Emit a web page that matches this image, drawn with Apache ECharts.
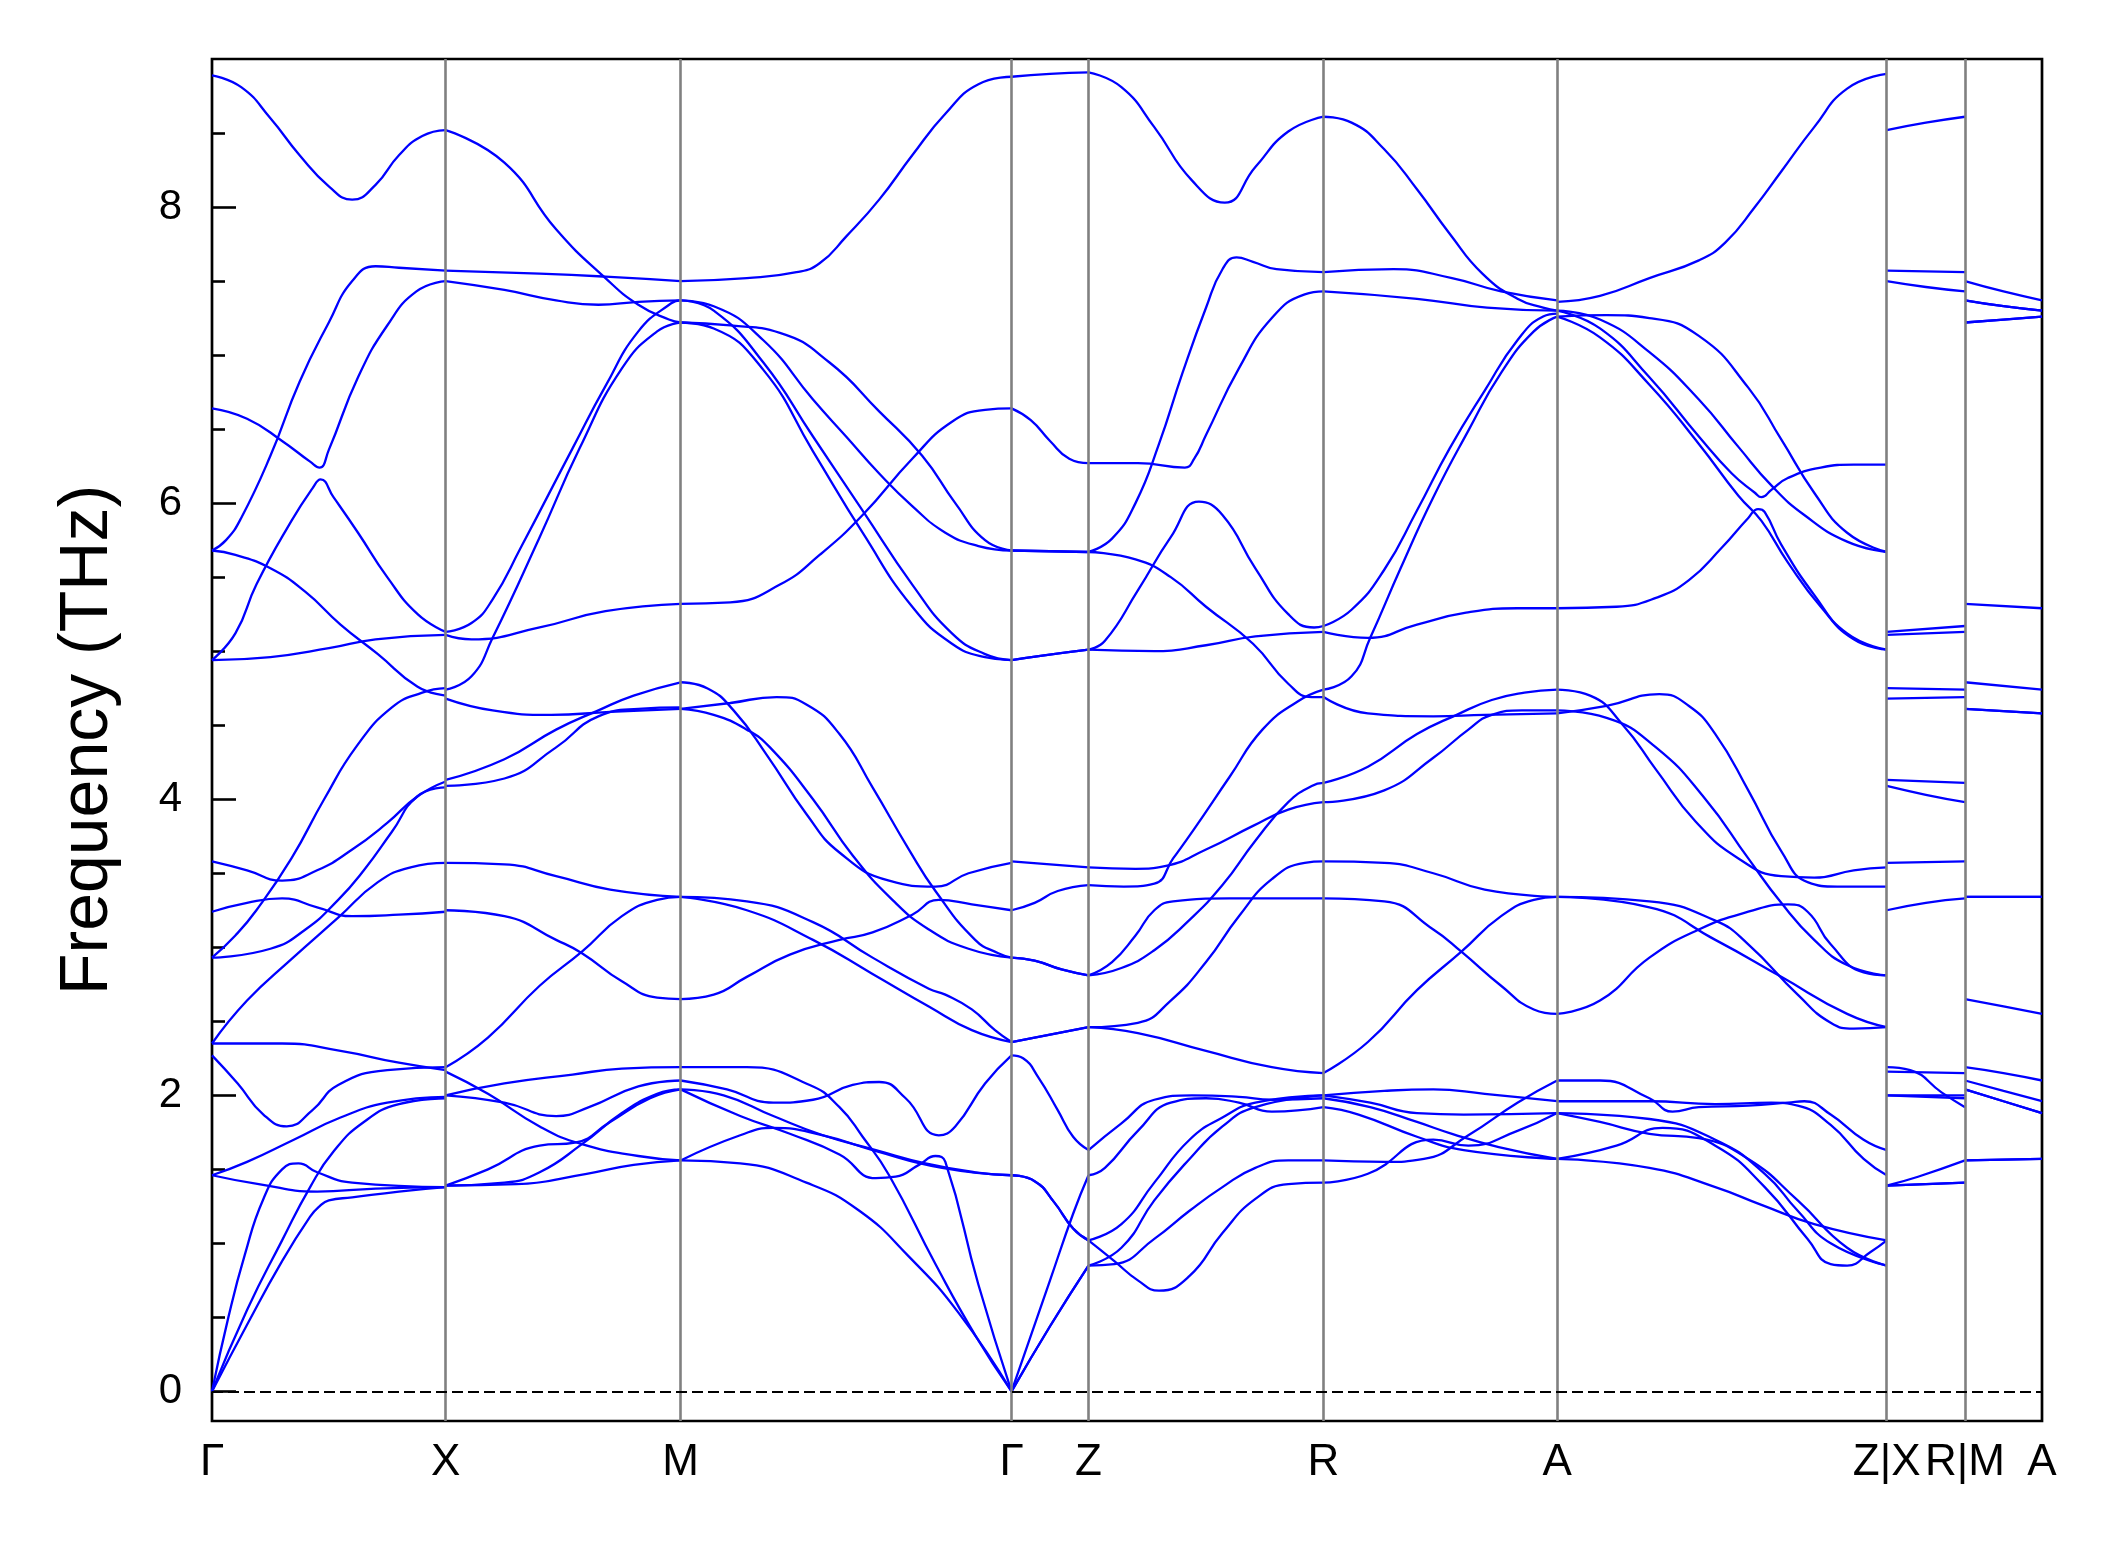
<!DOCTYPE html>
<html><head><meta charset="utf-8">
<script src="https://cdn.jsdelivr.net/npm/echarts@6/dist/echarts.min.js"></script>
<style>html,body{margin:0;padding:0;background:#fff}#c{width:2118px;height:1549px}</style>
</head><body><div id="c"></div>
<script>
// high-symmetry points (path distance) and their labels
const kLabels = ['Γ','X','M','Γ','Z','R','A','Z|X','R|M','A'];
const kPos = [0,173,347,592,649,823,996,1240,1298,1355];
const yMajorTicks = [0,2,4,6,8];
const yMinorTicks = [0.5,1,1.5,2.5,3,3.5,4.5,5,5.5,6.5,7,7.5,8.5];

// each band: [fraction along segment, frequency THz]
const seg_G_X = [
 [[0,8.89],[.125,8.81],[.25,8.6],[.375,8.35],[.5,8.14],[.6,8.05],[.7,8.15],[.8,8.35],[.9,8.48],[1,8.52]],
 [[0,5.68],[.06,5.75],[.125,5.9],[.25,6.32],[.375,6.82],[.5,7.22],[.6,7.5],[.7,7.6],[.8,7.59],[1,7.57]],
 [[0,6.64],[.15,6.57],[.3,6.42],[.42,6.28],[.46,6.24],[.5,6.36],[.625,6.85],[.75,7.2],[.875,7.43],[1,7.5]],
 [[0,4.94],[.1,5.12],[.19,5.45],[.34,5.88],[.43,6.1],[.465,6.16],[.52,6.04],[.625,5.8],[.75,5.5],[.88,5.25],[1,5.13]],
 [[0,5.68],[.1,5.65],[.25,5.56],[.4,5.4],[.55,5.18],[.71,4.98],[.88,4.76],[1,4.7]],
 [[0,4.94],[.25,4.96],[.5,5.02],[.7,5.08],[1,5.11]],
 [[0,3.58],[.15,3.52],[.3,3.45],[.45,3.52],[.6,3.66],[.75,3.84],[.88,4.02],[1,4.12]],
 [[0,3.24],[.15,3.3],[.3,3.33],[.45,3.27],[.6,3.21],[.8,3.22],[1,3.24]],
 [[0,2.93],[.1,3.08],[.19,3.25],[.34,3.6],[.48,4.0],[.62,4.36],[.77,4.62],[.9,4.72],[1,4.75]],
 [[0,2.93],[.25,2.99],[.4,3.12],[.54,3.32],[.65,3.52],[.77,3.78],[.88,4.02],[1,4.08]],
 [[0,2.35],[.15,2.64],[.34,2.92],[.54,3.2],[.71,3.44],[.85,3.54],[1,3.57]],
 [[0,2.35],[.3,2.35],[.55,2.3],[.8,2.22],[1,2.17]],
 [[0,2.27],[.11,2.08],[.22,1.87],[.32,1.79],[.43,1.9],[.54,2.07],[.75,2.17],[1,2.19]],
 [[0,1.46],[.15,1.55],[.35,1.7],[.55,1.85],[.75,1.95],[1,1.99]],
 [[0,1.46],[.2,1.4],[.45,1.35],[.7,1.37],[1,1.38]],
 [[0,0],[.07,0.5],[.14,0.92],[.22,1.3],[.3,1.5],[.37,1.54],[.45,1.48],[.6,1.41],[1,1.38]],
 [[0,0],[.15,0.55],[.3,1.02],[.42,1.38],[.52,1.62],[.65,1.82],[.8,1.94],[1,1.98]],
 [[0,0],[.15,0.45],[.3,0.88],[.42,1.18],[.46,1.25],[.5,1.29],[.6,1.31],[.8,1.35],[1,1.38]]
];
const seg_X_M = [
 [[0,8.52],[.25,8.3],[.47,7.85],[.68,7.52],[.82,7.34],[.95,7.24],[1,7.22]],
 [[0,7.57],[.4,7.55],[.68,7.53],[1,7.5]],
 [[0,7.5],[.25,7.44],[.47,7.37],[.65,7.34],[.82,7.36],[1,7.37]],
 [[0,5.13],[.11,5.19],[.2,5.35],[.32,5.7],[.54,6.37],[.68,6.79],[.82,7.16],[.96,7.35],[1,7.37]],
 [[0,4.74],[.11,4.83],[.2,5.09],[.4,5.77],[.57,6.37],[.75,6.91],[.9,7.16],[1,7.22]],
 [[0,5.11],[.11,5.08],[.4,5.16],[.68,5.27],[1,5.32]],
 [[0,4.68],[.2,4.6],[.45,4.57],[.7,4.59],[1,4.61]],
 [[0,4.13],[.25,4.27],[.47,4.47],[.65,4.6],[.8,4.7],[1,4.79]],
 [[0,4.09],[.25,4.14],[.47,4.35],[.65,4.56],[.82,4.61],[1,4.62]],
 [[0,3.57],[.25,3.56],[.47,3.48],[.7,3.39],[1,3.34]],
 [[0,3.25],[.25,3.21],[.47,3.05],[.58,2.96],[.75,2.77],[.9,2.66],[1,2.65]],
 [[0,2.19],[.18,2.39],[.4,2.74],[.58,2.97],[.75,3.21],[.9,3.32],[1,3.34]],
 [[0,2.16],[.18,2.01],[.4,1.79],[.58,1.67],[.82,1.59],[1,1.56]],
 [[0,2.0],[.25,2.08],[.54,2.14],[.75,2.18],[1,2.19]],
 [[0,2.0],[.25,1.95],[.47,1.86],[.61,1.92],[.82,2.06],[1,2.1]],
 [[0,1.39],[.18,1.5],[.4,1.66],[.55,1.68],[.7,1.82],[.87,1.98],[1,2.04]],
 [[0,1.39],[.25,1.41],[.4,1.48],[.58,1.67],[.75,1.88],[.9,2.01],[1,2.04]],
 [[0,1.39],[.3,1.4],[.6,1.47],[.8,1.53],[1,1.56]]
];
const seg_M_G = [
 [[0,7.5],[.2,7.52],[.35,7.56],[.42,7.62],[.5,7.8],[.6,8.05],[.7,8.35],[.8,8.63],[.9,8.83],[1,8.88]],
 [[0,7.37],[.1,7.33],[.25,7.1],[.4,6.7],[.5,6.45],[.6,6.2],[.7,5.98],[.8,5.8],[.9,5.71],[1,5.68]],
 [[0,7.22],[.15,7.2],[.3,7.15],[.45,6.95],[.6,6.62],[.73,6.32],[.83,6.0],[.92,5.75],[1,5.68]],
 [[0,7.37],[.1,7.3],[.25,6.95],[.4,6.45],[.55,5.95],[.7,5.45],[.82,5.12],[.92,4.98],[1,4.94]],
 [[0,7.22],[.1,7.18],[.25,6.9],[.4,6.35],[.55,5.8],[.7,5.3],[.82,5.05],[.92,4.96],[1,4.94]],
 [[0,5.32],[.15,5.33],[.3,5.45],[.42,5.65],[.55,5.92],[.7,6.3],[.82,6.55],[.92,6.63],[1,6.64]],
 [[0,4.79],[.08,4.75],[.16,4.6],[.26,4.3],[.38,3.9],[.48,3.64],[.63,3.45],[.77,3.41],[.87,3.5],[1,3.57]],
 [[0,4.61],[.15,4.65],[.29,4.69],[.38,4.64],[.48,4.44],[.58,4.08],[.69,3.66],[.77,3.38],[.89,3.05],[.96,2.96],[1,2.93]],
 [[0,4.61],[.1,4.57],[.2,4.47],[.27,4.35],[.4,4.0],[.52,3.62],[.64,3.32],[.75,3.12],[.87,2.99],[1,2.93]],
 [[0,3.34],[.2,3.31],[.4,3.17],[.58,2.93],[.75,2.72],[.8,2.68],[.88,2.58],[.95,2.44],[1,2.36]],
 [[0,3.34],[.2,3.25],[.4,3.05],[.58,2.82],[.75,2.6],[.88,2.44],[1,2.36]],
 [[0,2.65],[.1,2.68],[.2,2.8],[.33,2.95],[.48,3.05],[.58,3.1],[.7,3.22],[.78,3.32],[.88,3.29],[1,3.25]],
 [[0,2.19],[.2,2.19],[.39,2.07],[.48,1.92],[.55,1.72],[.63,1.46],[.77,0.86],[.89,0.38],[1,0]],
 [[0,2.1],[.14,2.04],[.28,1.95],[.4,1.97],[.52,2.07],[.6,2.09],[.68,1.98],[.78,1.73],[.83,1.79],[.92,2.08],[1,2.27]],
 [[0,2.04],[.18,1.86],[.33,1.74],[.48,1.6],[.59,1.44],[.65,1.45],[.72,1.53],[.77,1.59],[.8,1.55],[.9,0.72],[1,0]],
 [[0,2.04],[.13,2.0],[.28,1.86],[.43,1.73],[.59,1.63],[.74,1.54],[.89,1.48],[1,1.46]],
 [[0,1.56],[.18,1.73],[.28,1.78],[.43,1.73],[.58,1.63],[.79,1.51],[1,1.46]],
 [[0,1.56],[.18,1.54],[.38,1.41],[.54,1.22],[.69,0.91],[.84,0.53],[1,0]]
];
const seg_G_Z = [
 [[0,8.88],[.5,8.9],[1,8.91]],
 [[0,6.64],[.25,6.56],[.5,6.42],[.75,6.3],[1,6.27]],
 [[0,5.68],[1,5.67]],
 [[0,5.68],[1,5.67]],
 [[0,4.94],[.4,4.97],[1,5.01]],
 [[0,4.94],[.4,4.97],[1,5.01]],
 [[0,3.58],[.5,3.56],[1,3.54]],
 [[0,3.25],[.3,3.3],[.6,3.38],[1,3.42]],
 [[0,2.93],[.3,2.91],[.65,2.85],[1,2.81]],
 [[0,2.93],[.3,2.91],[.65,2.85],[1,2.81]],
 [[0,2.36],[.4,2.4],[1,2.46]],
 [[0,2.36],[.4,2.4],[1,2.46]],
 [[0,2.27],[.15,2.25],[.35,2.12],[.6,1.9],[.8,1.72],[1,1.63]],
 [[0,1.46],[.3,1.42],[.55,1.28],[.8,1.1],[1,1.02]],
 [[0,1.46],[.3,1.42],[.55,1.28],[.8,1.1],[1,1.02]],
 [[0,0],[.5,0.75],[.8,1.2],[1,1.46]],
 [[0,0],[.5,0.44],[1,0.85]],
 [[0,0],[.5,0.44],[1,0.85]]
];
const seg_Z_R = [
 [[0,8.91],[.14,8.81],[.28,8.54],[.44,8.18],[.58,8.03],[.71,8.27],[.85,8.51],[1,8.61]],
 [[0,6.27],[.21,6.27],[.41,6.24],[.45,6.3],[.5,6.46],[.64,6.91],[.78,7.25],[.92,7.41],[1,7.43]],
 [[0,5.67],[.1,5.76],[.2,6.0],[.3,6.4],[.4,6.88],[.5,7.32],[.57,7.58],[.63,7.66],[.7,7.63],[.8,7.58],[1,7.56]],
 [[0,5.67],[.2,5.62],[.35,5.5],[.5,5.3],[.7,5.05],[.85,4.78],[.95,4.69],[1,4.69]],
 [[0,5.01],[.07,5.07],[.21,5.41],[.35,5.77],[.47,6.01],[.57,5.92],[.71,5.56],[.85,5.25],[.96,5.16],[1,5.17]],
 [[0,5.01],[.28,5.0],[.5,5.04],[.71,5.1],[1,5.13]],
 [[0,3.54],[.2,3.53],[.33,3.55],[.5,3.66],[.7,3.82],[.85,3.93],[1,3.98]],
 [[0,3.42],[.15,3.41],[.28,3.43],[.36,3.6],[.45,3.8],[.6,4.15],[.74,4.47],[.89,4.66],[1,4.74]],
 [[0,2.81],[.14,2.86],[.28,2.98],[.42,3.17],[.57,3.42],[.71,3.72],[.85,3.98],[.95,4.09],[1,4.11]],
 [[0,2.81],[.1,2.9],[.2,3.08],[.28,3.25],[.36,3.31],[.6,3.33],[1,3.33]],
 [[0,2.46],[.21,2.49],[.35,2.64],[.5,2.9],[.64,3.21],[.78,3.46],[.92,3.57],[1,3.58]],
 [[0,2.46],[.21,2.42],[.5,2.3],[.78,2.19],[1,2.15]],
 [[0,1.63],[.14,1.81],[.28,1.97],[.44,2.0],[.64,1.99],[.78,1.97],[1,1.98]],
 [[0,1.46],[.07,1.51],[.21,1.76],[.35,1.95],[.5,1.98],[.64,1.95],[.78,1.89],[1,1.92]],
 [[0,1.02],[.11,0.88],[.21,0.75],[.3,0.68],[.43,0.78],[.57,1.07],[.71,1.3],[.85,1.4],[1,1.41]],
 [[0,1.02],[.14,1.13],[.28,1.41],[.43,1.7],[.57,1.85],[.71,1.95],[1,2.0]],
 [[0,0.85],[.14,0.97],[.28,1.29],[.43,1.57],[.57,1.79],[.71,1.92],[1,2.0]],
 [[0,0.85],[.11,0.86],[.28,1.03],[.43,1.22],[.57,1.38],[.71,1.51],[.85,1.56],[1,1.56]]
];
const seg_R_A = [
 [[0,8.61],[.12,8.57],[.26,8.39],[.4,8.12],[.54,7.82],[.68,7.55],[.83,7.38],[.94,7.32],[1,7.3]],
 [[0,7.56],[.3,7.58],[.55,7.52],[.76,7.43],[1,7.37]],
 [[0,7.43],[.4,7.38],[.7,7.32],[1,7.3]],
 [[0,5.17],[.12,5.28],[.26,5.55],[.4,5.95],[.54,6.37],[.69,6.76],[.83,7.1],[.94,7.26],[1,7.28]],
 [[0,4.74],[.12,4.83],[.2,5.09],[.33,5.56],[.47,6.04],[.62,6.49],[.76,6.88],[.9,7.16],[1,7.26]],
 [[0,5.13],[.19,5.09],[.4,5.18],[.61,5.26],[.83,5.29],[1,5.29]],
 [[0,4.69],[.19,4.58],[.47,4.56],[.69,4.57],[1,4.58]],
 [[0,4.11],[.19,4.22],[.4,4.44],[.57,4.57],[.72,4.67],[.86,4.72],[1,4.74]],
 [[0,3.98],[.26,4.06],[.47,4.28],[.62,4.47],[.72,4.57],[.85,4.6],[1,4.6]],
 [[0,3.58],[.26,3.57],[.47,3.5],[.69,3.39],[1,3.34]],
 [[0,3.33],[.26,3.31],[.47,3.12],[.59,2.97],[.76,2.74],[.9,2.58],[1,2.55]],
 [[0,2.15],[.19,2.36],[.4,2.71],[.59,2.97],[.76,3.21],[.9,3.32],[1,3.34]],
 [[0,2.0],[.26,2.03],[.47,2.04],[.69,2.01],[1,1.96]],
 [[0,2.0],[.2,1.95],[.4,1.88],[.6,1.87],[1,1.88]],
 [[0,1.98],[.2,1.92],[.4,1.82],[.55,1.74],[.75,1.65],[1,1.57]],
 [[0,1.92],[.15,1.87],[.4,1.72],[.6,1.63],[1,1.57]],
 [[0,1.56],[.26,1.55],[.43,1.57],[.62,1.73],[.83,1.95],[1,2.1]],
 [[0,1.41],[.19,1.47],[.47,1.7],[.62,1.66],[.83,1.76],[1,1.88]]
];
const seg_A_Z = [
 [[0,7.36],[.13,7.4],[.28,7.52],[.43,7.64],[.51,7.76],[.6,8.0],[.68,8.24],[.78,8.54],[.88,8.8],[1,8.9]],
 [[0,7.26],[.15,7.27],[.28,7.25],[.43,7.13],[.58,6.78],[.68,6.43],[.78,6.07],[.88,5.8],[1,5.67]],
 [[0,7.3],[.13,7.24],[.28,7.02],[.43,6.7],[.55,6.38],[.65,6.12],[.75,5.92],[.88,5.74],[1,5.67]],
 [[0,7.3],[.13,7.18],[.28,6.85],[.43,6.45],[.53,6.2],[.6,6.07],[.62,6.04],[.65,6.09],[.7,6.17],[.8,6.24],[.9,6.26],[1,6.26]],
 [[0,7.26],[.13,7.12],[.28,6.8],[.43,6.4],[.55,6.05],[.62,5.88],[.7,5.6],[.8,5.3],[.9,5.08],[1,5.01]],
 [[0,5.29],[.18,5.3],[.3,5.36],[.4,5.48],[.5,5.7],[.58,5.9],[.61,5.96],[.63,5.94],[.68,5.72],[.78,5.38],[.88,5.12],[1,5.01]],
 [[0,4.74],[.1,4.7],[.2,4.5],[.3,4.2],[.42,3.85],[.55,3.6],[.68,3.48],[.78,3.47],[.9,3.52],[1,3.54]],
 [[0,4.58],[.15,4.63],[.31,4.71],[.4,4.63],[.48,4.44],[.58,4.06],[.68,3.65],[.76,3.44],[.85,3.41],[1,3.41]],
 [[0,4.6],[.15,4.55],[.3,4.35],[.45,4.0],[.58,3.6],[.68,3.3],[.78,3.05],[.88,2.88],[1,2.81]],
 [[0,3.34],[.28,3.31],[.48,3.18],[.58,3.02],[.73,2.68],[.83,2.49],[.9,2.45],[1,2.46]],
 [[0,3.34],[.28,3.27],[.48,3.05],[.68,2.8],[.88,2.55],[1,2.46]],
 [[0,2.55],[.13,2.64],[.28,2.93],[.43,3.12],[.58,3.24],[.7,3.29],[.76,3.24],[.83,3.02],[.93,2.83],[1,2.81]],
 [[0,2.1],[.13,2.1],[.28,1.98],[.35,1.89],[.43,1.92],[.58,1.93],[.7,1.95],[.75,1.96],[.83,1.87],[.93,1.7],[1,1.63]],
 [[0,1.96],[.28,1.96],[.48,1.94],[.65,1.95],[.73,1.93],[.83,1.8],[.93,1.57],[1,1.46]],
 [[0,1.88],[.28,1.84],[.48,1.7],[.63,1.47],[.73,1.22],[.83,1.0],[1,0.85]],
 [[0,1.88],[.13,1.82],[.28,1.74],[.43,1.71],[.58,1.57],[.73,1.29],[.88,0.97],[1,0.85]],
 [[0,1.57],[.28,1.51],[.48,1.38],[.62,1.26],[.78,1.13],[1,1.02]],
 [[0,1.57],[.18,1.66],[.32,1.78],[.48,1.66],[.63,1.38],[.76,1.03],[.83,0.86],[.88,0.85],[.95,0.94],[1,1.02]]
];
const seg_X_R = [
 [[0,8.52],[.5,8.57],[1,8.61]],
 [[0,7.57],[1,7.56]],
 [[0,7.5],[.5,7.46],[1,7.43]],
 [[0,5.13],[1,5.17]],
 [[0,5.11],[1,5.13]],
 [[0,4.75],[1,4.74]],
 [[0,4.68],[1,4.69]],
 [[0,4.13],[1,4.11]],
 [[0,4.09],[.5,4.03],[1,3.98]],
 [[0,3.57],[1,3.58]],
 [[0,3.25],[.5,3.3],[1,3.33]],
 [[0,2.19],[.3,2.17],[.7,2.02],[1,1.92]],
 [[0,2.16],[1,2.15]],
 [[0,2.0],[1,2.0]],
 [[0,2.0],[1,1.98]],
 [[0,1.39],[.4,1.45],[1,1.56]],
 [[0,1.39],[1,1.41]],
 [[0,1.39],[1,1.41]]
];
const seg_M_A = [
 [[0,7.5],[.5,7.43],[1,7.37]],
 [[0,7.37],[.5,7.33],[1,7.3]],
 [[0,7.37],[.5,7.33],[1,7.3]],
 [[0,7.22],[.5,7.24],[1,7.26]],
 [[0,7.22],[.5,7.24],[1,7.26]],
 [[0,5.32],[1,5.29]],
 [[0,4.79],[1,4.74]],
 [[0,4.61],[1,4.58]],
 [[0,4.61],[1,4.58]],
 [[0,3.34],[1,3.34]],
 [[0,3.34],[1,3.34]],
 [[0,2.65],[.5,2.6],[1,2.55]],
 [[0,2.19],[.5,2.15],[1,2.1]],
 [[0,2.1],[.5,2.03],[1,1.96]],
 [[0,2.04],[.5,1.96],[1,1.88]],
 [[0,2.04],[.5,1.96],[1,1.88]],
 [[0,1.56],[1,1.57]],
 [[0,1.56],[1,1.57]]
];

const segments = [
 [seg_G_X,0,1],[seg_X_M,1,2],[seg_M_G,2,3],[seg_G_Z,3,4],[seg_Z_R,4,5],
 [seg_R_A,5,6],[seg_A_Z,6,7],[seg_X_R,7,8],[seg_M_A,8,9]
];

const FONT = 'Liberation Sans, Arial, Helvetica, sans-serif';
const series = [];
segments.forEach(([bands,a,b]) => {
  const x0 = kPos[a], x1 = kPos[b];
  bands.forEach(band => {
    series.push({
      type:'line', silent:true, showSymbol:false, smooth:0.5, z:3,
      lineStyle:{color:'#0000ff', width:2.3},
      data: band.map(([t,f]) => [x0 + t*(x1-x0), f])
    });
  });
});
// vertical high-symmetry lines and zero line
series.push({
  type:'line', data:[], silent:true, z:1,
  markLine:{
    silent:true, symbol:['none','none'], label:{show:false}, animation:false,
    data: kPos.slice(1,-1).map(v => ({xAxis:v, lineStyle:{color:'#808080', width:2.6, type:'solid'}}))
      .concat([{yAxis:0, lineStyle:{color:'#000', width:2, type:[11,5]}}])
  }
});

const chart = echarts.init(document.getElementById('c'), null, {renderer:'canvas'});
chart.setOption({
  animation:false,
  backgroundColor:'#fff',
  grid:{left:212, right:76, top:59, bottom:128, show:true, borderColor:'#000', borderWidth:2.7, backgroundColor:'transparent'},
  xAxis:{
    type:'value', min:kPos[0], max:kPos[kPos.length-1],
    axisLine:{show:false}, axisTick:{show:false}, splitLine:{show:false},
    axisLabel:{
      customValues:kPos, showMinLabel:true, showMaxLabel:true, hideOverlap:false,
      color:'#000', fontSize:44, fontFamily:FONT, margin:20,
      formatter:(v)=>{ const i = kPos.indexOf(v); return i>=0 ? kLabels[i] : ''; }
    }
  },
  yAxis:[{
    type:'value', min:-0.2, max:9.0,
    name:'Frequency (THz)', nameLocation:'middle', nameGap:90, nameRotate:90,
    nameTextStyle:{color:'#000', fontSize:68, fontFamily:FONT},
    axisLine:{show:false}, splitLine:{show:false},
    axisTick:{show:true, inside:true, length:24, customValues:yMajorTicks, lineStyle:{color:'#000', width:2.6}},
    axisLabel:{customValues:yMajorTicks, color:'#000', fontSize:42, fontFamily:FONT, margin:30}
  },{
    type:'value', min:-0.2, max:9.0, position:'left',
    axisLine:{show:false}, splitLine:{show:false}, axisLabel:{show:false},
    axisTick:{show:true, inside:true, length:13, customValues:yMinorTicks, lineStyle:{color:'#000', width:2.6}}
  }],
  series: series
});
</script></body></html>
